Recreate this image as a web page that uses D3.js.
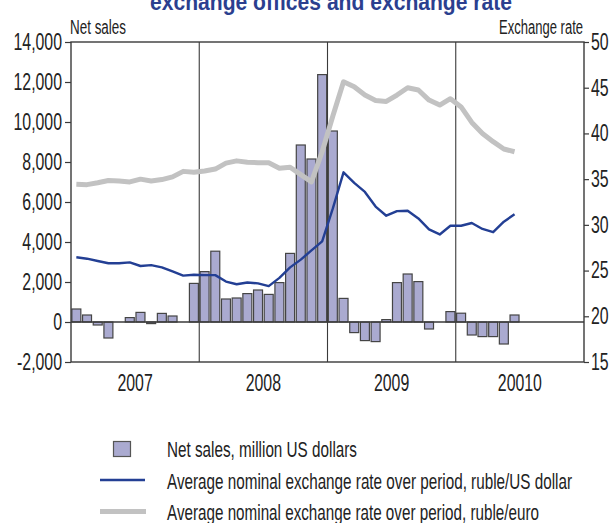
<!DOCTYPE html>
<html>
<head>
<meta charset="utf-8">
<script src="https://cdn.jsdelivr.net/npm/d3@7"></script>
<style>
  html, body { margin: 0; padding: 0; background: #fff; }
  svg { display: block; }
  text { font-family: "Liberation Sans Narrow", "Liberation Sans", Arial, sans-serif; fill: #222; }
</style>
</head>
<body>
<svg id="chart" width="614" height="523"></svg>
<script>
// Monthly observations, Jan 2007 – Jun 2010
const months = [];
for (let y = 2007; y <= 2010; y++) for (let m = 1; m <= 12; m++) months.push(`${y}-${String(m).padStart(2, "0")}`);

// Net sales of foreign cash, million US dollars
const netSales = [
  650, 350, -150, -800, 0, 220, 480, -80, 430, 300, 0, 1930,
  2520, 3540, 1150, 1200, 1420, 1600, 1380, 1970, 3430, 8850, 8150, 12370,
  9550, 1180, -530, -930, -980, 120, 1970, 2400, 2020, -350, 0, 520,
  440, -650, -730, -730, -1100, 350
];
// Average nominal exchange rate, ruble/US dollar
const rubUsd = [
  26.45, 26.3, 26.05, 25.8, 25.8, 25.9, 25.5, 25.6, 25.35, 24.9, 24.45, 24.55,
  24.5, 24.5, 23.8, 23.5, 23.7, 23.6, 23.3, 24.2, 25.35, 26.2, 27.2, 28.2,
  31.8, 35.75, 34.6, 33.6, 32.0, 31.0, 31.5, 31.55, 30.7, 29.5, 28.95, 29.9,
  29.9, 30.2, 29.55, 29.2, 30.35, 31.15
];
// Average nominal exchange rate, ruble/euro
const rubEur = [
  34.45, 34.4, 34.6, 34.85, 34.8, 34.7, 35.0, 34.8, 34.95, 35.25, 35.85, 35.75,
  35.9, 36.1, 36.75, 37.0, 36.85, 36.8, 36.8, 36.2, 36.3, 35.5, 34.7, 38.0,
  41.9, 45.65, 45.1, 44.2, 43.6, 43.5, 44.2, 45.0, 44.75, 43.65, 43.1, 43.8,
  42.9, 41.2, 40.0, 39.1, 38.3, 38.0
];

const years = ["2007", "2008", "2009", "2010"];
const yearLabels = ["2007", "2008", "2009", "20010"];
const leftTicks = [-2000, 0, 2000, 4000, 6000, 8000, 10000, 12000, 14000];
const rightTicks = [15, 20, 25, 30, 35, 40, 45, 50];
const legendLabels = [
  "Net sales, million US dollars",
  "Average nominal exchange rate over period, ruble/US dollar",
  "Average nominal exchange rate over period, ruble/euro"
];

const C = { bar: "#aaaad0", barStroke: "#454545", usd: "#233f94", eur: "#c2c2c2", frame: "#3a3a3a", title: "#2b3f8f" };
const plot = { left: 71, right: 584, top: 42, bottom: 362 };

const svg = d3.select("#chart");

// squeeze text horizontally to a target width
function fitWidth(node, w) {
  node.setAttribute("textLength", w);
  node.setAttribute("lengthAdjust", "spacingAndGlyphs");
}
function condense(sel, k) {
  sel.each(function () { fitWidth(this, this.getComputedTextLength() * k); });
}

const x = d3.scaleBand().domain(months).range([plot.left, plot.right]).paddingInner(0.16).paddingOuter(0.08);
const xc = d => x(d) + x.bandwidth() / 2;
const yL = d3.scaleLinear().domain([-2000, 14000]).range([plot.bottom, plot.top]);
const yR = d3.scaleLinear().domain([15, 50]).range([plot.bottom, plot.top]);
const yearX = d3.scaleBand().domain(years).range([plot.left, plot.right]);

// title (second line)
const title = svg.append("text")
  .attr("x", 331).attr("y", 10).attr("text-anchor", "middle")
  .style("font-size", "24px").style("font-weight", "bold").style("fill", C.title)
  .text("exchange offices and exchange rate");
fitWidth(title.node(), 362);

// year separators
svg.append("g").selectAll("line").data(years.slice(1)).join("line")
  .attr("x1", d => yearX(d)).attr("x2", d => yearX(d))
  .attr("y1", plot.top).attr("y2", plot.bottom)
  .attr("stroke", C.frame).attr("stroke-width", 1.1);

// bars
const data = netSales.map((v, i) => ({ m: months[i], v, usd: rubUsd[i], eur: rubEur[i] }));
svg.append("g").selectAll("rect").data(data.filter(d => d.v !== 0)).join("rect")
  .attr("x", d => x(d.m)).attr("width", x.bandwidth())
  .attr("y", d => yL(Math.max(0, d.v)))
  .attr("height", d => Math.abs(yL(d.v) - yL(0)))
  .attr("fill", C.bar).attr("stroke", C.barStroke).attr("stroke-width", 1.2);

// zero line
svg.append("line")
  .attr("x1", plot.left).attr("x2", plot.right).attr("y1", yL(0)).attr("y2", yL(0))
  .attr("stroke", C.frame).attr("stroke-width", 1.4);

// exchange-rate lines
const lineEur = d3.line().x(d => xc(d.m)).y(d => yR(d.eur));
const lineUsd = d3.line().x(d => xc(d.m)).y(d => yR(d.usd));
svg.append("path").datum(data).attr("d", lineEur)
  .attr("fill", "none").attr("stroke", C.eur).attr("stroke-width", 5).attr("stroke-linejoin", "round");
svg.append("path").datum(data).attr("d", lineUsd)
  .attr("fill", "none").attr("stroke", C.usd).attr("stroke-width", 2.4).attr("stroke-linejoin", "round");

// frame
svg.append("rect")
  .attr("x", plot.left).attr("y", plot.top)
  .attr("width", plot.right - plot.left).attr("height", plot.bottom - plot.top)
  .attr("fill", "none").attr("stroke", C.frame).attr("stroke-width", 1.4);

// axes
const fmtL = d => (d < 0 ? "-" : "") + d3.format(",")(Math.abs(d));
const gL = svg.append("g").attr("transform", `translate(${plot.left},0)`)
  .call(d3.axisLeft(yL).tickValues(leftTicks).tickFormat(fmtL).tickSize(6).tickPadding(3));
const gR = svg.append("g").attr("transform", `translate(${plot.right},0)`)
  .call(d3.axisRight(yR).tickValues(rightTicks).tickSize(5).tickPadding(2));
[gL, gR].forEach(g => {
  g.select(".domain").remove();
  g.selectAll(".tick line").attr("stroke", C.frame).attr("stroke-width", 1.2);
  g.selectAll(".tick text").style("font-size", "23px").style("font-family", null).attr("fill", "#222");
});

// horizontal squeeze factor for the condensed face
const probe = svg.append("text").style("font-size", "23px").text("14,000");
const k = 48.5 / probe.node().getComputedTextLength();
probe.remove();
condense(gL.selectAll(".tick text"), k);
condense(gR.selectAll(".tick text"), k);

// year labels
const yl = svg.append("g").selectAll("text").data(years).join("text")
  .attr("x", d => yearX(d) + yearX.bandwidth() / 2).attr("y", 391)
  .attr("text-anchor", "middle").style("font-size", "23px")
  .text((d, i) => yearLabels[i]);
condense(yl, k);

// axis titles
const tL = svg.append("text").attr("x", 70).attr("y", 34).style("font-size", "19.5px").text("Net sales");
fitWidth(tL.node(), 56);
const tR = svg.append("text").attr("x", 583).attr("y", 34).attr("text-anchor", "end").style("font-size", "19.5px").text("Exchange rate");
fitWidth(tR.node(), 84);

// legend
const lg = svg.append("g");
lg.append("rect").attr("x", 113.5).attr("y", 441.5).attr("width", 17).attr("height", 15)
  .attr("fill", C.bar).attr("stroke", "#555").attr("stroke-width", 1.2);
lg.append("line").attr("x1", 100).attr("x2", 145).attr("y1", 480).attr("y2", 480)
  .attr("stroke", C.usd).attr("stroke-width", 2.4);
lg.append("line").attr("x1", 100).attr("x2", 146).attr("y1", 511.5).attr("y2", 511.5)
  .attr("stroke", C.eur).attr("stroke-width", 5);
const legW = [190, 405, 372];
const legY = [457, 488.5, 520];
lg.selectAll("text.lab").data(legendLabels).join("text")
  .attr("class", "lab").attr("x", 167).attr("y", (d, i) => legY[i])
  .style("font-size", "22px").text(d => d)
  .each(function (d, i) { fitWidth(this, legW[i]); });
</script>
</body>
</html>
